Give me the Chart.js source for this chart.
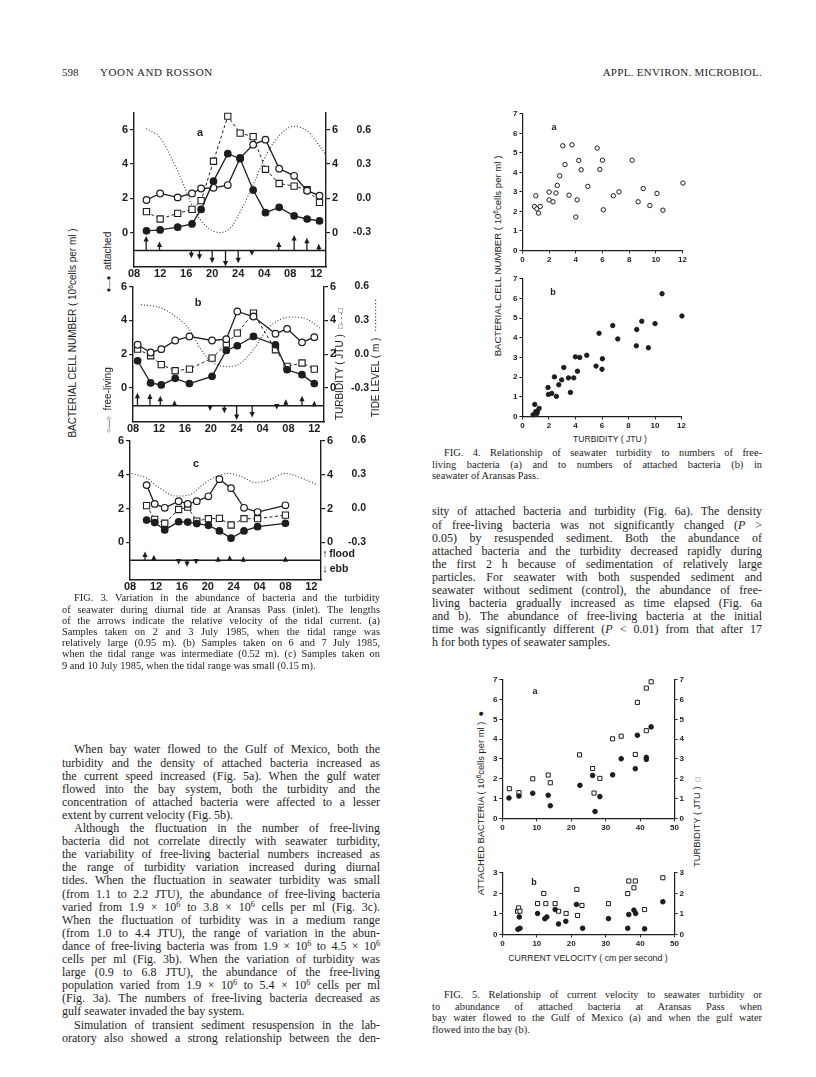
<!DOCTYPE html>
<html>
<head>
<meta charset="utf-8">
<title>Yoon and Rosson, p. 598</title>
<script src="https://cdn.jsdelivr.net/npm/chart.js@4.4.0/dist/chart.umd.min.js"></script>
<style>
  html, body { margin: 0; padding: 0; background: #fff; }
  #page { position: relative; width: 816px; height: 1077px; overflow: hidden; color: #1d1d1d;
          font-family: "Liberation Serif", "Times New Roman", serif; }
  canvas { position: absolute; }
  .ln { position: absolute; white-space: nowrap; }
  .body { font-size: 12px; }
  .cap { font-size: 10.4px; }
  .rot { position: absolute; white-space: nowrap; transform: translate(-50%, -50%) rotate(-90deg);
         font-family: "Liberation Sans", Arial, sans-serif; line-height: 1; }
  .lab { position: absolute; white-space: nowrap; transform: translate(-50%, -50%);
         font-family: "Liberation Sans", Arial, sans-serif; font-weight: bold; line-height: 1; }
  .hd { position: absolute; top: 66px; font-size: 11px; line-height: 12px; }
  sup { font-size: 68%; vertical-align: 0.5em; line-height: 0; }
  .sm { font-size: 75%; }
</style>
</head>
<body>
<div id="page">
  <div class="hd" style="left:62px">598</div>
  <div class="hd" style="left:100px;letter-spacing:0.6px">YOON AND ROSSON</div>
  <div class="hd" style="right:54px;letter-spacing:0.3px">APPL. ENVIRON. MICROBIOL.</div>

  <canvas id="f3a"></canvas>
  <canvas id="f3b"></canvas>
  <canvas id="f3c"></canvas>
  <canvas id="f4a"></canvas>
  <canvas id="f4b"></canvas>
  <canvas id="f5a"></canvas>
  <canvas id="f5b"></canvas>

  <!-- figure 3 labels -->
  <div class="rot" style="left:73px;top:333px;font-size:10px">BACTERIAL CELL NUMBER ( 10<sup>6</sup>cells per ml )</div>
  <div class="rot" style="left:108px;top:262px;font-size:10px"><span class="sm">●—●</span>&nbsp;&nbsp;attached</div>
  <div class="rot" style="left:108px;top:400px;font-size:10px"><span class="sm">○—○</span>&nbsp;&nbsp;free-living</div>
  <div class="rot" style="left:340px;top:364px;font-size:10px">TURBIDITY ( JTU )&nbsp;&nbsp;<span class="sm">□- - -□</span></div>
  <div class="rot" style="left:376px;top:358px;font-size:10px">TIDE LEVEL ( m )&nbsp;&nbsp;··········</div>
  <div class="lab" style="left:200px;top:132px;font-size:11px">a</div>
  <div class="lab" style="left:198px;top:302px;font-size:11px">b</div>
  <div class="lab" style="left:196px;top:463px;font-size:11px">c</div>
  <div class="lab" style="left:325px;top:553px;font-size:11px">↑</div>
  <div class="lab" style="left:342px;top:553px;font-size:10.5px">flood</div>
  <div class="lab" style="left:325px;top:568px;font-size:11px">↓</div>
  <div class="lab" style="left:339px;top:568px;font-size:10.5px">ebb</div>

  <!-- figure 4 labels -->
  <div class="rot" style="left:498px;top:256px;font-size:9.6px">BACTERIAL CELL NUMBER ( 10<sup>6</sup>cells per ml )</div>
  <div class="lab" style="left:554px;top:127px;font-size:9px">a</div>
  <div class="lab" style="left:553px;top:292px;font-size:9px">b</div>
  <div class="lab" style="left:610px;top:439px;font-size:8.6px;font-weight:normal">TURBIDITY ( JTU )</div>

  <!-- figure 5 labels -->
  <div class="rot" style="left:481px;top:803px;font-size:9.4px">ATTACHED BACTERIA ( 10<sup>6</sup>cells per ml )&nbsp;&nbsp;●</div>
  <div class="rot" style="left:697px;top:822px;font-size:9.4px">TURBIDITY ( JTU )&nbsp;&nbsp;<span class="sm">□</span></div>
  <div class="lab" style="left:535px;top:691px;font-size:9px">a</div>
  <div class="lab" style="left:534px;top:882px;font-size:9px">b</div>
  <div class="lab" style="left:588px;top:958px;font-size:8.8px;font-weight:normal">CURRENT VELOCITY ( cm per second )</div>
</div>

<script>
// ---------- data ----------
// Fig. 3 time axis (hours from 08:00 on day 1; 28 = 04:00 next day)
const HOUR_TICKS = [8, 12, 16, 20, 24, 28, 32, 36];
const HOUR_LABELS = ['08', '12', '16', '20', '24', '04', '08', '12'];
const CELL_TICKS = [0, 2, 4, 6];
const TIDE_TICKS = [-0.3, 0.0, 0.3, 0.6];
const TIDE_ZERO = -0.3;       // tide level at cell/turbidity value 0
const TIDE_PER_UNIT = 0.15;   // metres per cell/turbidity unit
const ARROW_BASE = -1.05;     // baseline of current arrows

// Fig. 3a  (2-3 July 1985)
const aTime = [9.9, 12.0, 14.7, 16.9, 18.3, 20.2, 22.4, 24.3, 26.3, 28.2, 30.3, 32.6, 34.6, 36.5];
const aFree = [1.90, 2.28, 2.05, 2.28, 2.57, 2.61, 2.77, 4.35, 5.13, 5.42, 3.73, 3.31, 2.44, 2.15];
const aAtt  = [0.10, 0.15, 0.31, 0.50, 1.35, 3.00, 4.60, 4.31, 2.48, 1.16, 1.47, 0.97, 0.79, 0.68];
const aTurb = [1.22, 0.79, 1.12, 1.35, 1.86, 4.16, 6.79, 5.80, 5.60, 3.69, 2.86, 2.71, 2.50, 1.76];
const aTideT = [9.85, 12.0, 13.5, 15.6, 17.1, 19.2, 21.1, 22.8, 24.3, 26.4, 28.4, 30.5, 32.5, 34.6, 36.6, 37.5];
const aTide  = [0.61, 0.53, 0.38, 0.12, -0.09, -0.25, -0.30, -0.26, -0.12, 0.13, 0.39, 0.56, 0.63, 0.59, 0.45, 0.38];
const aArrT = [9.85, 11.9, 16.8, 18.05, 20.0, 22.05, 24.0, 26.1, 30.25, 32.6, 34.56, 36.4];
const aArrL = [0.85, 0.52, -0.45, -0.54, -0.74, -0.93, -0.74, -0.31, 0.52, 0.91, 0.75, 0.39];

// Fig. 3b  (6-7 July 1985)
const bTime = [8.7, 10.7, 12.35, 14.5, 16.7, 20.2, 22.4, 24.1, 26.6, 30.0, 31.8, 34.1, 36.0];
const bFree = [2.56, 2.10, 2.30, 2.81, 3.05, 2.81, 2.89, 4.53, 4.23, 3.21, 3.50, 2.70, 3.01];
const bAtt  = [1.61, 0.30, 0.18, 0.57, 0.26, 0.69, 2.22, 2.50, 3.05, 2.56, 1.08, 0.79, 0.26];
const bTurb = [2.30, 1.91, 1.38, 1.02, 1.12, 1.77, 2.60, 3.25, 4.43, 2.26, 1.28, 1.48, 1.12];
const bTideT = [9.2, 12.35, 14.65, 16.7, 18.5, 20.5, 22.6, 24.6, 26.7, 28.7, 30.8, 32.8, 34.9, 37.1];
const bTide  = [0.44, 0.41, 0.33, 0.22, 0.04, -0.08, -0.11, -0.08, 0.05, 0.22, 0.31, 0.33, 0.31, 0.22];
const bArrT = [8.67, 10.6, 12.2, 14.4, 19.9, 22.1, 24.0, 26.4, 30.2, 31.6, 34.1, 36.0];
const bArrL = [0.77, 0.73, 0.59, 0.33, -0.31, -0.45, -0.85, -0.69, -0.22, 0.39, 0.59, 0.30];

// Fig. 3c  (9-10 July 1985)
const cTime = [10.55, 11.8, 13.35, 15.5, 16.9, 18.3, 20.1, 21.8, 23.6, 25.6, 27.7, 32.0];
const cFree = [3.38, 2.27, 2.04, 2.43, 2.27, 2.43, 2.72, 3.73, 3.20, 2.04, 1.79, 2.19];
const cAtt  = [1.32, 1.17, 0.74, 1.22, 1.20, 1.11, 1.01, 0.68, 0.25, 0.68, 0.93, 1.13];
const cTurb = [2.17, 1.36, 1.13, 1.94, 2.08, 1.26, 1.40, 1.42, 1.03, 1.40, 1.40, 1.61];
const cTideT = [8.25, 10.5, 12.6, 15.1, 17.2, 19.2, 21.2, 23.3, 25.3, 27.3, 29.4, 31.9, 34.0, 36.9];
const cTide  = [0.31, 0.27, 0.18, 0.11, 0.12, 0.21, 0.28, 0.31, 0.28, 0.23, 0.25, 0.31, 0.28, 0.21];
const cArrT = [10.3, 11.67, 15.5, 16.8, 18.2, 21.6, 23.4, 25.5, 32.0];
const cArrL = [0.52, 0.33, -0.25, -0.39, -0.25, 0.23, 0.29, 0.23, 0.23];

// Fig. 4  turbidity (JTU) vs bacterial cell number (10^6 per ml)
const f4aTurb = [0.9, 1.0, 1.08, 1.2, 1.33, 2.0, 2.0, 2.29, 2.51, 2.61, 2.79, 3.02, 3.19, 3.49, 3.72, 4.0, 4.1,
                 4.22, 4.4, 4.9, 5.6, 5.8, 6.0, 6.06, 6.81, 7.24, 8.22, 8.67, 9.05, 9.55, 10.08, 10.53, 12.03];
const f4aFree = [2.25, 2.8, 2.13, 1.91, 2.25, 2.99, 2.59, 2.49, 2.94, 3.33, 3.82, 5.36, 4.40, 2.83, 5.41, 1.71, 2.59,
                 4.61, 4.13, 3.28, 5.24, 4.15, 4.62, 2.08, 2.80, 3.0, 4.62, 2.49, 3.17, 2.30, 2.92, 2.06, 3.45];
const f4bTurb = [0.8, 0.93, 1.0, 1.1, 1.13, 1.26, 1.93, 1.96, 2.21, 2.41, 2.56, 2.74, 2.96, 3.12, 3.47, 3.62, 3.87,
                 3.99, 4.15, 4.32, 4.85, 5.55, 5.78, 6.0, 6.03, 6.81, 7.19, 8.59, 8.62, 9.0, 9.5, 10.0, 10.53, 12.03];
const f4bAtt  = [0.08, 0.61, 0.24, 0.15, 0.27, 0.41, 1.47, 1.12, 1.17, 2.01, 1.02, 1.61, 1.86, 2.49, 1.96, 1.22, 1.96,
                 3.03, 2.30, 3.0, 3.11, 2.56, 4.23, 2.40, 2.93, 4.62, 3.94, 3.59, 4.42, 4.84, 3.49, 4.72, 6.24, 5.11];

// Fig. 5  current velocity (cm/s) vs turbidity (squares) and attached bacteria (dots)
const f5aVelT = [2.0, 4.8, 8.8, 13.3, 13.9, 22.4, 26.2, 26.6, 28.3, 32.0, 34.5, 38.6, 39.2, 41.8, 41.8, 43.2];
const f5aTurb = [1.5, 1.3, 2.0, 2.19, 1.8, 3.21, 2.52, 1.28, 2.02, 4.02, 4.15, 3.23, 5.86, 4.43, 6.58, 6.9];
const f5aVelA = [1.9, 4.8, 8.8, 13.3, 13.9, 22.5, 26.2, 26.9, 28.3, 32.0, 34.5, 38.6, 39.2, 41.8, 41.8, 43.2];
const f5aAtt  = [1.03, 1.13, 1.27, 1.17, 0.64, 1.67, 2.17, 0.35, 1.1, 2.2, 3.01, 2.51, 4.2, 2.98, 3.08, 4.62];
const f5bVelT = [4.4, 4.7, 5.1, 10.2, 12.0, 12.6, 15.3, 16.3, 18.5, 21.6, 21.8, 23.1, 30.8, 36.4, 36.7, 38.2, 38.6, 41.3, 46.6];
const f5bTurb = [1.13, 1.29, 1.13, 1.5, 1.99, 1.5, 1.5, 1.13, 1.02, 2.19, 0.92, 1.41, 1.5, 1.99, 2.6, 2.27, 2.6, 1.21, 2.76];
const f5bVelA = [4.9, 5.1, 4.5, 10.2, 12.3, 12.9, 15.3, 16.3, 18.4, 21.5, 23.3, 30.8, 36.4, 36.7, 38.2, 38.7, 41.3, 46.6];
const f5bAtt  = [0.85, 0.3, 0.25, 1.02, 0.76, 0.85, 1.21, 0.51, 0.64, 1.46, 0.3, 0.77, 0.3, 0.97, 1.18, 1.02, 0.27, 1.59];

// ---------- text ----------
// '>' = paragraph indent, '¶' = last line of paragraph (not justified)
const capFig3 = [
  '>FIG. 3. Variation in the abundance of bacteria and the turbidity',
  'of seawater during diurnal tide at Aransas Pass (inlet). The lengths',
  'of the arrows indicate the relative velocity of the tidal current. (a)',
  'Samples taken on 2 and 3 July 1985, when the tidal range was',
  'relatively large (0.95 m). (b) Samples taken on 6 and 7 July 1985,',
  'when the tidal range was intermediate (0.52 m). (c) Samples taken on',
  '9 and 10 July 1985, when the tidal range was small (0.15 m).¶'
];
const bodyLeft = [
  '>When bay water flowed to the Gulf of Mexico, both the',
  'turbidity and the density of attached bacteria increased as',
  'the current speed increased (Fig. 5a). When the gulf water',
  'flowed into the bay system, both the turbidity and the',
  'concentration of attached bacteria were affected to a lesser',
  'extent by current velocity (Fig. 5b).¶',
  '>Although the fluctuation in the number of free-living',
  'bacteria did not correlate directly with seawater turbidity,',
  'the variability of free-living bacterial numbers increased as',
  'the range of turbidity variation increased during diurnal',
  'tides. When the fluctuation in seawater turbidity was small',
  '(from 1.1 to 2.2 JTU), the abundance of free-living bacteria',
  'varied from 1.9 × 10<sup>6</sup> to 3.8 × 10<sup>6</sup> cells per ml (Fig. 3c).',
  'When the fluctuation of turbidity was in a medium range',
  '(from 1.0 to 4.4 JTU), the range of variation in the abun-',
  'dance of free-living bacteria was from 1.9 × 10<sup>6</sup> to 4.5 × 10<sup>6</sup>',
  'cells per ml (Fig. 3b). When the variation of turbidity was',
  'large (0.9 to 6.8 JTU), the abundance of the free-living',
  'population varied from 1.9 × 10<sup>6</sup> to 5.4 × 10<sup>6</sup> cells per ml',
  '(Fig. 3a). The numbers of free-living bacteria decreased as',
  'gulf seawater invaded the bay system.¶',
  '>Simulation of transient sediment resuspension in the lab-',
  'oratory also showed a strong relationship between the den-'
];
const capFig4 = [
  '>FIG. 4. Relationship of seawater turbidity to numbers of free-',
  'living bacteria (a) and to numbers of attached bacteria (b) in',
  'seawater of Aransas Pass.¶'
];
const bodyRight = [
  'sity of attached bacteria and turbidity (Fig. 6a). The density',
  'of free-living bacteria was not significantly changed (<i>P</i> &gt;',
  '0.05) by resuspended sediment. Both the abundance of',
  'attached bacteria and the turbidity decreased rapidly during',
  'the first 2 h because of sedimentation of relatively large',
  'particles. For seawater with both suspended sediment and',
  'seawater without sediment (control), the abundance of free-',
  'living bacteria gradually increased as time elapsed (Fig. 6a',
  'and b). The abundance of free-living bacteria at the initial',
  'time was significantly different (<i>P</i> &lt; 0.01) from that after 17',
  'h for both types of seawater samples.¶'
];
const capFig5 = [
  '>FIG. 5. Relationship of current velocity to seawater turbidity or',
  'to abundance of attached bacteria at Aransas Pass when',
  'bay water flowed to the Gulf of Mexico (a) and when the gulf water',
  'flowed into the bay (b).¶'
];

// ---------- drawing ----------
const INK = '#1d1d1d';
const SANS = '"Liberation Sans", Arial, sans-serif';
const page = document.getElementById('page');

function xy(xs, ys) { return xs.map((x, i) => ({x: x, y: ys[i]})); }

function textLines(arr, x, yc, w, lh, cls) {
  arr.forEach((raw, i) => {
    let s = raw, indent = 0, justify = true;
    if (s[0] === '>') { indent = 12; s = s.slice(1); }
    if (s.endsWith('¶')) { justify = false; s = s.slice(0, -1); }
    const d = document.createElement('div');
    d.className = 'ln ' + cls;
    d.style.left = (x + indent) + 'px';
    d.style.top = (yc - lh / 2 + i * lh) + 'px';
    d.style.lineHeight = lh + 'px';
    const sp = document.createElement('span');
    sp.innerHTML = s;
    d.appendChild(sp);
    page.appendChild(d);
    const nat = sp.getBoundingClientRect().width;
    const target = w - indent;
    const gaps = (sp.textContent.match(/ /g) || []).length;
    if ((justify || nat > target) && gaps) sp.style.wordSpacing = ((target - nat) / gaps) + 'px';
  });
}

// place a chart so its plot area lands on the given box
function placeChart(id, make, box) {
  const cv = document.getElementById(id);
  cv.width = box.w + 200; cv.height = box.h + 100;
  let chart = new Chart(cv, make());
  const ca = chart.chartArea;
  const extraW = cv.width - (ca.right - ca.left);
  const extraH = cv.height - (ca.bottom - ca.top);
  chart.destroy();
  cv.width = Math.round(box.w + extraW);
  cv.height = Math.round(box.h + extraH);
  chart = new Chart(cv, make());
  cv.style.left = (box.x - chart.chartArea.left) + 'px';
  cv.style.top = (box.y - chart.chartArea.top) + 'px';
  return chart;
}

function arrowsPlugin(arrT, arrL) {
  return {
    id: 'tideArrows',
    afterDatasetsDraw(chart) {
      const {ctx, chartArea: a, scales: {x, y}} = chart;
      const y0 = y.getPixelForValue(ARROW_BASE);
      ctx.save();
      ctx.strokeStyle = INK; ctx.fillStyle = INK; ctx.lineWidth = 1.4;
      ctx.beginPath(); ctx.moveTo(a.left, y0); ctx.lineTo(a.right, y0); ctx.stroke();
      ctx.lineWidth = 1.3;
      arrT.forEach((t, i) => {
        const px = x.getPixelForValue(t);
        const tip = y.getPixelForValue(ARROW_BASE + arrL[i]);
        const d = tip < y0 ? 1 : -1;
        ctx.beginPath(); ctx.moveTo(px, y0); ctx.lineTo(px, tip + d * 3); ctx.stroke();
        ctx.beginPath(); ctx.moveTo(px, tip); ctx.lineTo(px - 2.6, tip + d * 5.5);
        ctx.lineTo(px + 2.6, tip + d * 5.5); ctx.closePath(); ctx.fill();
      });
      ctx.restore();
    }
  };
}

const baseOpts = {
  animation: false, responsive: false, devicePixelRatio: 1, events: [],
  layout: {padding: 0},
  plugins: {legend: {display: false}, tooltip: {enabled: false}}
};

function fig3(p) {
  const font = {family: SANS, size: 11, weight: 'bold'};
  const cellAxis = pos => ({
    position: pos, min: p.ymin, max: p.ymax,
    afterBuildTicks: s => { s.ticks = CELL_TICKS.map(v => ({value: v})); },
    ticks: {font: font, color: INK, padding: 2},
    grid: {drawOnChartArea: false, tickLength: 4, color: INK, lineWidth: 1.2},
    border: {color: INK, width: 1.4}
  });
  const right = cellAxis('right');
  right.afterFit = s => { s.width = 21; };
  return {
    type: 'line',
    data: {datasets: [
      {data: xy(p.time, p.att), borderColor: INK, borderWidth: 1.3, pointRadius: 3.2,
       pointBackgroundColor: INK, pointBorderColor: INK},
      {data: xy(p.time, p.free), borderColor: INK, borderWidth: 1.3, pointRadius: 3.3,
       pointBackgroundColor: '#fff', pointBorderColor: INK, pointBorderWidth: 1.2},
      {data: xy(p.time, p.turb), yAxisID: 'yR', borderColor: INK, borderWidth: 1, borderDash: [3, 2.5],
       pointStyle: 'rect', pointRadius: 4.4, pointBackgroundColor: '#fff', pointBorderColor: INK, pointBorderWidth: 1.1},
      {data: xy(p.tideT, p.tide), yAxisID: 'yT', borderColor: '#333', borderWidth: 1.1, borderDash: [1, 2],
       pointRadius: 0, cubicInterpolationMode: 'monotone'}
    ]},
    options: Object.assign({}, baseOpts, {
      scales: {
        x: {type: 'linear', min: 8, max: 37.5,
            afterBuildTicks: s => { s.ticks = HOUR_TICKS.map(v => ({value: v})); },
            ticks: {font: font, color: INK, padding: 1, maxRotation: 0, autoSkip: false,
                    callback: v => HOUR_LABELS[HOUR_TICKS.indexOf(v)]},
            grid: {display: false, drawTicks: false}, border: {color: INK, width: 1.4}},
        y: cellAxis('left'),
        yR: right,
        yT: {position: 'right',
             min: TIDE_ZERO + p.ymin * TIDE_PER_UNIT, max: TIDE_ZERO + p.ymax * TIDE_PER_UNIT,
             afterBuildTicks: s => { s.ticks = TIDE_TICKS.map(v => ({value: v})); },
             afterFit: s => { s.width = 24; },
             ticks: {font: {family: SANS, size: 10.5, weight: 'bold'}, color: INK, padding: 1,
                     crossAlign: 'far', callback: v => v.toFixed(1)},
             grid: {display: false, drawTicks: false}, border: {display: false}}
      }
    }),
    plugins: [arrowsPlugin(p.arrT, p.arrL)]
  };
}

function smallAxis(min, max, step, pos) {
  return {
    position: pos, min: min, max: max,
    ticks: {stepSize: step, font: {family: SANS, size: 8, weight: 'bold'}, color: INK, padding: 2, maxRotation: 0},
    grid: {drawOnChartArea: false, tickLength: 3, color: INK, lineWidth: 1},
    border: {color: INK, width: 1.2}
  };
}

function fig4(xs, ys, filled) {
  return {
    type: 'scatter',
    data: {datasets: [{data: xy(xs, ys), pointRadius: 2.2, pointBorderWidth: 1, clip: false,
      pointBackgroundColor: filled ? INK : '#fff', pointBorderColor: INK}]},
    options: Object.assign({}, baseOpts, {
      scales: {x: Object.assign(smallAxis(0, 12, 2, 'bottom'), {type: 'linear'}),
               y: smallAxis(0, 7, 1, 'left')}
    })
  };
}

function fig5(vt, turb, va, att, ymax) {
  return {
    type: 'scatter',
    data: {datasets: [
      {data: xy(va, att), pointRadius: 2.3, clip: false, pointBackgroundColor: INK, pointBorderColor: INK},
      {data: xy(vt, turb), yAxisID: 'yR', pointStyle: 'rect', pointRadius: 2.9, pointBorderWidth: 1, clip: false,
       pointBackgroundColor: '#fff', pointBorderColor: INK}
    ]},
    options: Object.assign({}, baseOpts, {
      scales: {x: Object.assign(smallAxis(0, 50, 10, 'bottom'), {type: 'linear'}),
               y: smallAxis(0, ymax, 1, 'left'),
               yR: smallAxis(0, ymax, 1, 'right')}
    })
  };
}

// plot-area boxes (page pixels)
const BOX = {
  f3a: {x: 134, y: 113, w: 192, h: 154},
  f3b: {x: 133, y: 287, w: 191, h: 135},
  f3c: {x: 130, y: 441, w: 191, h: 139},
  f4a: {x: 522, y: 114, w: 160, h: 137},
  f4b: {x: 522, y: 279, w: 159, h: 138},
  f5a: {x: 502, y: 680, w: 172, h: 139},
  f5b: {x: 502, y: 873, w: 172, h: 62}
};

placeChart('f3a', () => fig3({time: aTime, free: aFree, att: aAtt, turb: aTurb, tideT: aTideT, tide: aTide,
                              arrT: aArrT, arrL: aArrL, ymin: -2, ymax: 7}), BOX.f3a);
placeChart('f3b', () => fig3({time: bTime, free: bFree, att: bAtt, turb: bTurb, tideT: bTideT, tide: bTide,
                              arrT: bArrT, arrL: bArrL, ymin: -2, ymax: 6}), BOX.f3b);
placeChart('f3c', () => fig3({time: cTime, free: cFree, att: cAtt, turb: cTurb, tideT: cTideT, tide: cTide,
                              arrT: cArrT, arrL: cArrL, ymin: -2.2, ymax: 6}), BOX.f3c);
placeChart('f4a', () => fig4(f4aTurb, f4aFree, false), BOX.f4a);
placeChart('f4b', () => fig4(f4bTurb, f4bAtt, true), BOX.f4b);
placeChart('f5a', () => fig5(f5aVelT, f5aTurb, f5aVelA, f5aAtt, 7), BOX.f5a);
placeChart('f5b', () => fig5(f5bVelT, f5bTurb, f5bVelA, f5bAtt, 3), BOX.f5b);

textLines(capFig3, 62, 598, 318, 11.2, 'cap');
textLines(bodyLeft, 62, 750, 318, 13.1, 'body');
textLines(capFig4, 432, 453, 330, 11.2, 'cap');
textLines(bodyRight, 432, 512, 330, 13.05, 'body');
textLines(capFig5, 432, 995, 330, 11.5, 'cap');
</script>
</body>
</html>
